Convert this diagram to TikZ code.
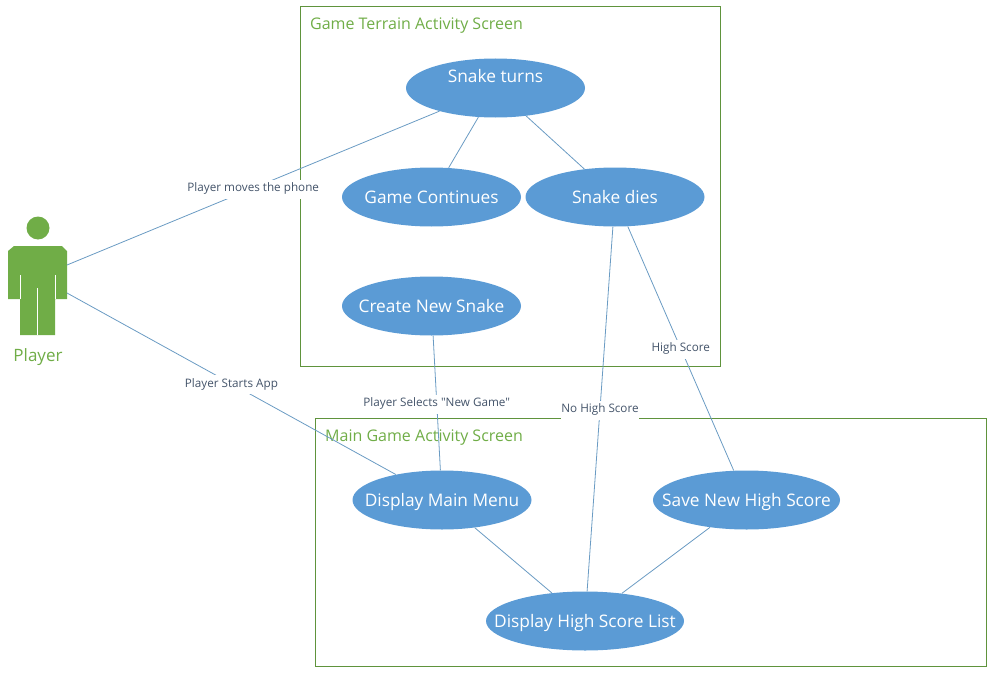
\documentclass[tikz,border=0pt]{standalone}
\usepackage{fontspec}
\setmainfont{Open Sans}
\newfontfamily\labelfont{Open Sans}
\usetikzlibrary{shapes.geometric}
\definecolor{usegreen}{HTML}{70AD47}
\definecolor{useblue}{HTML}{5B9BD5}
\definecolor{linkblue}{HTML}{6A9BC3}
\definecolor{labelblue}{HTML}{44546A}
\tikzset{
    usecase/.style={ellipse,fill=useblue,text=white,inner xsep=-40pt,inner ysep=0pt,minimum height=59pt,text height=12pt,text depth=0pt,font=\fontsize{17.3}{20}\selectfont},
    screenbox/.style={draw=usegreen!85!black,line width=0.8pt},
    screentitle/.style={anchor=west,text=usegreen,inner sep=0pt,font=\fontsize{16}{18}\selectfont},
    link/.style={draw=linkblue,line width=0.8pt},
    linklabel/.style={midway,yshift=-1pt,fill=white,text=labelblue,inner xsep=0.5pt,inner ysep=4pt,text height=8pt,text depth=3pt,font=\labelfont\fontsize{11.7}{13}\selectfont},
}

\begin{document}
\begin{tikzpicture}[x=1pt,y=-1pt]
    \useasboundingbox (0,0) rectangle (993,677);
    % screens
    \node[screenbox,minimum width=420pt,minimum height=360pt,inner sep=0pt] (terrainbox) at (510,186) {};
    \node[screenbox,minimum width=671pt,minimum height=248pt,inner sep=0pt] (mainbox) at (650.5,542) {};
    \node[screentitle] (terraintitle) at (310,25.5) {Game Terrain Activity Screen};
    \node[screentitle] (maintitle) at (325,437.5) {Main Game Activity Screen};
    % use cases
    \node[usecase,minimum width=179pt] (turns) at (495.5,88) {\raisebox{12pt}[0pt][0pt]{Snake turns}};
    \node[usecase,minimum width=179pt] (continues) at (431.5,197) {Game Continues};
    \node[usecase,minimum width=179pt] (dies) at (615,197) {Snake dies};
    \node[usecase,minimum width=179pt] (create) at (431.5,306) {Create New Snake};
    \node[usecase,minimum width=179pt] (menu) at (442,500) {Display Main Menu};
    \node[usecase,minimum width=187pt] (save) at (746.5,500) {Save New High Score};
    \node[usecase,minimum width=198pt] (list) at (585,621) {Display High Score List};
    % player
    \fill[usegreen] (38,228) circle (11.5);
    \fill[usegreen] (14,246) -- (62,246) -- (67,251) -- (67,299) -- (55,299) -- (55,335)
        -- (20,335) -- (20,299) -- (8,299) -- (8,251) -- cycle;
    \draw[white,line width=0.7pt] (20,275) -- (20,299);
    \draw[white,line width=0.7pt] (55,275) -- (55,299);
    \draw[white,line width=0.7pt] (37.5,288) -- (37.5,335);
    \node[text=usegreen,inner sep=0pt,font=\fontsize{17}{20}\selectfont] (player) at (38,357) {Player};
    \coordinate (playertop) at (67,265);
    \coordinate (playerlow) at (67,293);
    % connectors
    \draw[link] (turns) -- (continues);
    \draw[link] (turns) -- (dies);
    \draw[link] (menu) -- (list);
    \draw[link] (save) -- (list);
    \draw[link] (playertop) -- (turns) node[linklabel] (movelabel) {Player moves the phone};
    \draw[link] (playerlow) -- (menu) node[linklabel] (startlabel) {Player Starts App};
    \draw[link] (create) -- (menu) node[linklabel] (newlabel) {Player Selects "New Game"};
    \draw[link] (dies) -- (list) node[linklabel] (nolabel) {No High Score};
    \draw[link] (dies) -- (save) node[linklabel] (highlabel) {High Score};
\end{tikzpicture}
\end{document}
